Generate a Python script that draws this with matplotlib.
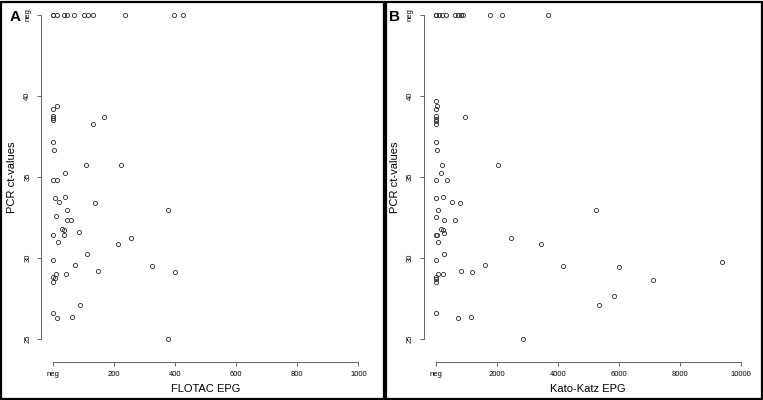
"""PCR ct-values against FLOTAC and Kato-Katz egg counts"""
# two panels, R base-graphics look: open circles, axis lines only over the tick range

import matplotlib
matplotlib.use("Agg")
import matplotlib.pyplot as plt
from matplotlib.patches import Rectangle

plt.rcParams['font.family'] = ['Liberation Sans', 'DejaVu Sans']

NEG = 45  # PCR negative samples are drawn on the "neg" row

# panel A, FLOTAC EPG (0 = neg)
flotac_epg = [11, 0, 0, 0, 0, 166, 132, 0, 3, 106, 222, 38, 0, 11, 5, 38, 19, 138, 377, 44,
              9, 44, 59, 29, 37, 84, 0, 34, 16, 212, 254, 110, 0, 73, 324, 398, 147, 9, 42, 0,
              6, 0, 87, 0, 11, 61, 377]
flotac_ct = [39.36, 39.19, 38.78, 38.64, 38.51, 38.68, 38.24, 37.16, 36.65, 35.73, 35.71, 35.22,
             34.84, 34.84, 33.68, 33.79, 33.46, 33.37, 32.98, 32.96, 32.59, 32.36, 32.32, 31.78,
             31.76, 31.61, 31.41, 31.45, 30.98, 30.89, 31.22, 30.23, 29.86, 29.58, 29.48, 29.13,
             29.21, 29.02, 29.02, 28.82, 28.74, 28.55, 27.12, 26.6, 26.29, 26.34, 24.99]
flotac_neg_epg = [0, 0, 11, 35, 44, 69, 101, 115, 130, 234, 397, 426]

# panel B, Kato-Katz EPG (0 = neg)
kk_epg = [0, 33, 0, 0, 0, 0, 0, 974, 0, 43, 207, 2040, 164, 0, 362, 0, 250, 546, 809, 5264,
          86, 0, 273, 625, 164, 230, 283, 0, 33, 66, 2468, 3464, 273, 0, 1622, 4178, 6008, 1194,
          832, 76, 230, 0, 0, 0, 5856, 5350, 0, 734, 1152, 2872, 9396, 7106]
kk_ct = [39.71, 39.36, 39.19, 38.78, 38.61, 38.47, 38.26, 38.68, 37.16, 36.65, 35.71, 35.71,
         35.22, 34.84, 34.84, 33.68, 33.79, 33.46, 33.37, 32.98, 32.96, 32.56, 32.36, 32.32,
         31.78, 31.76, 31.53, 31.41, 31.45, 30.98, 31.22, 30.89, 30.23, 29.86, 29.58, 29.48,
         29.46, 29.13, 29.21, 29.02, 29.02, 28.82, 28.7, 28.55, 27.66, 27.12, 26.6, 26.29,
         26.34, 24.99, 29.77, 28.62]
kk_neg_epg = [0, 0, 109, 217, 329, 635, 744, 842, 908, 1777, 2158, 3684]

y_ticks = [25, 30, 35, 40, NEG]
y_labels = ['25', '30', '35', '40', 'neg']
flotac_ticks = [0, 200, 400, 600, 800, 1000]
flotac_labels = ['neg', '200', '400', '600', '800', '1000']
kk_ticks = [0, 2000, 4000, 6000, 8000, 10000]
kk_labels = ['neg', '2000', '4000', '6000', '8000', '10000']

W, H = 763, 400
fig = plt.figure(figsize=(W / 100, H / 100), dpi=100)


def panel(left_px, xmax, x, y, xneg, xticks, xlabels, xlabel, letter, letter_px):
    ext = 0.04 * xmax
    ax = fig.add_axes([left_px / W, 48 / H, 329.5 / W, 350 / H])
    ax.set_xlim(-ext, xmax + ext)
    ax.set_ylim(24.2, 45.8)
    ax.plot(x, y, 'o', ms=3.0, mfc='none', mec='#2a2a2a', mew=0.6, clip_on=False)
    ax.plot(xneg, [NEG] * len(xneg), 'o', ms=3.0, mfc='none', mec='#2a2a2a', mew=0.6,
            clip_on=False)
    for s in ['top', 'right']:
        ax.spines[s].set_visible(False)
    ax.spines['left'].set_bounds(25, NEG)
    ax.spines['bottom'].set_bounds(0, xmax)
    ax.spines['bottom'].set_position(('outward', 7))
    for s in ['left', 'bottom']:
        ax.spines[s].set_color('#666666')
        ax.spines[s].set_linewidth(0.7)
    ax.set_xticks(xticks)
    ax.set_xticklabels(xlabels)
    ax.set_yticks(y_ticks)
    ax.set_yticklabels(y_labels, rotation=90, va='center')
    ax.tick_params(length=3, width=0.7, color='#666666', labelsize=5.5, pad=4)
    ax.set_xlabel(xlabel, fontsize=8, labelpad=4)
    ax.set_ylabel('PCR ct-values', fontsize=8, labelpad=5)
    fig.text(letter_px / W, 1 - 17 / H, letter, fontsize=11, fontweight='bold',
             ha='center', va='center')
    return ax


panel(41, 1000, flotac_epg, flotac_ct, flotac_neg_epg, flotac_ticks, flotac_labels,
      'FLOTAC EPG', 'A', 15)
panel(423.5, 10000, kk_epg, kk_ct, kk_neg_epg, kk_ticks, kk_labels,
      'Kato-Katz EPG', 'B', 394)

# thick frames round each panel
lw = 1.6
fig.add_artist(Rectangle((1.2 / W, 1.5 / H), 382.5 / W, 397 / H, transform=fig.transFigure,
                         fill=False, ec='black', lw=lw))
fig.add_artist(Rectangle((385.5 / W, 1.5 / H), 376.3 / W, 397 / H, transform=fig.transFigure,
                         fill=False, ec='black', lw=lw))

fig.savefig('out.png', dpi=100)
